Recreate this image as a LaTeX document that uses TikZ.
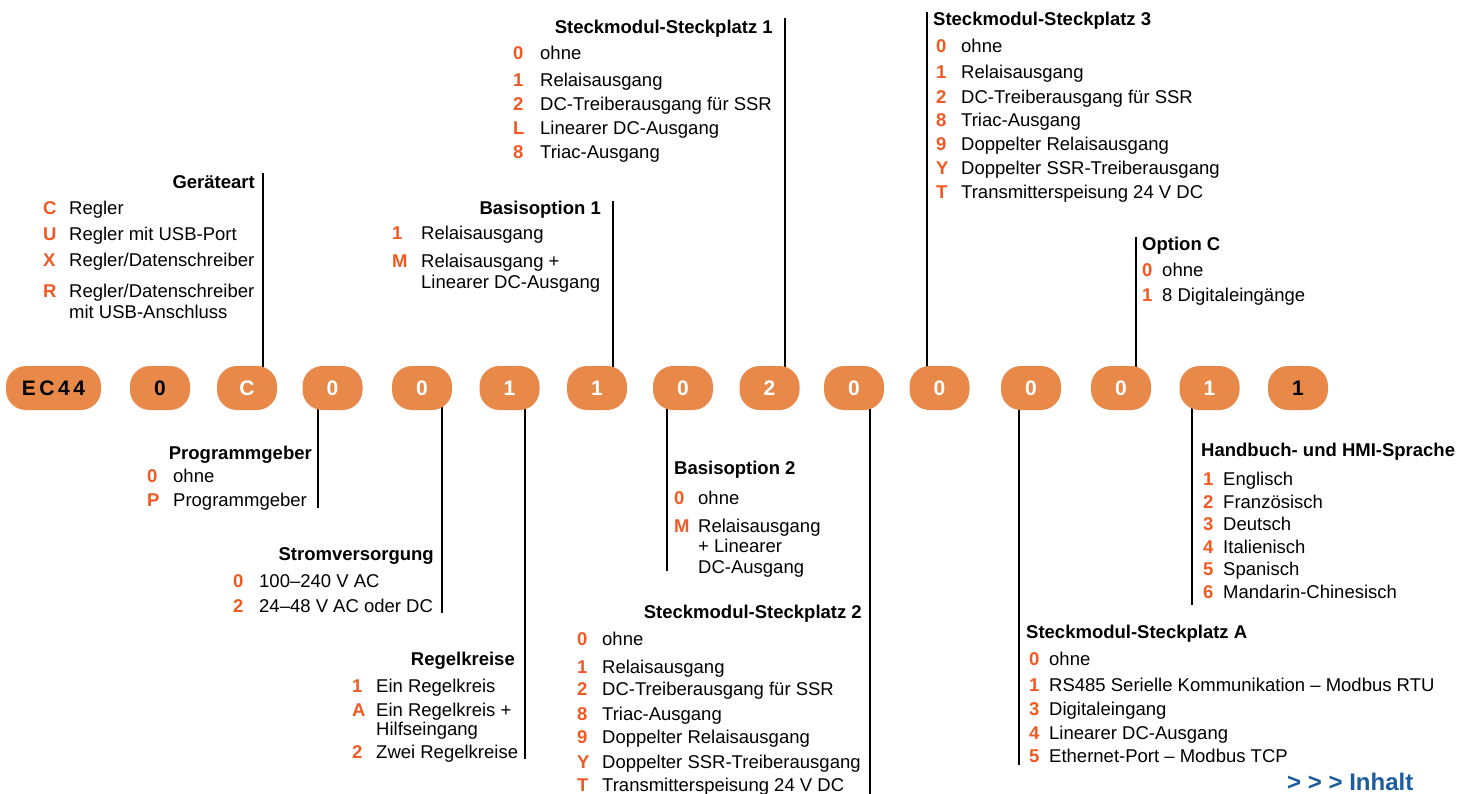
\documentclass[tikz,border=0pt]{standalone}
\usepackage{fontspec}
\setmainfont{Liberation Sans}
\usetikzlibrary{backgrounds}
\definecolor{pillc}{HTML}{E98949}
\definecolor{keyc}{HTML}{F05A22}
\definecolor{linkc}{HTML}{1B5C9D}
\tikzset{
  pill/.style={fill=pillc, rounded corners=20pt, minimum height=44pt, minimum width=60pt, inner sep=0pt, text=white, font=\bfseries\fontsize{21}{24}\selectfont},
  key/.style={anchor=base west, inner sep=0pt, text=keyc, font=\bfseries\fontsize{18.5}{22}\selectfont},
  itm/.style={anchor=base west, inner sep=0pt, font=\fontsize{18.5}{22}\selectfont},
  headl/.style={anchor=base west, inner sep=0pt, font=\bfseries\fontsize{18.5}{22}\selectfont},
  headr/.style={anchor=base east, inner sep=0pt, font=\bfseries\fontsize{18.5}{22}\selectfont},
  ln/.style={line width=2.7pt}
}
\newcommand\optrow[6]{\node[key] (#1k) at (#2,#4) {#5}; \node[itm] (#1t) at (#3,#4) {#6};}
\begin{document}
\begin{tikzpicture}[x=1pt,y=-1pt]
\useasboundingbox (0,0) rectangle (1475,794);
% pills
\node[pill,minimum width=95pt,text=black] (p1) at (53.5,388) {E\kern3.5pt C\kern3.5pt 4\kern3.5pt 4};
\node[pill,text=black] (p2) at (160,388) {0};
\node[pill] (p3) at (247,388) {C};
\node[pill] (p4) at (332.5,388) {0};
\node[pill] (p5) at (422,388) {0};
\node[pill] (p6) at (509.5,388) {1};
\node[pill] (p7) at (597,388) {1};
\node[pill] (p8) at (683,388) {0};
\node[pill] (p9) at (769.5,388) {2};
\node[pill] (p10) at (854,388) {0};
\node[pill] (p11) at (939.5,388) {0};
\node[pill] (p12) at (1031,388) {0};
\node[pill] (p13) at (1121,388) {0};
\node[pill] (p14) at (1209.5,388) {1};
\node[pill,text=black] (p15) at (1298,388) {1};
% connector free ends
\coordinate (cGa) at (263,173);
\coordinate (cB1) at (613,201);
\coordinate (cS1) at (785,18);
\coordinate (cS3) at (927,12);
\coordinate (cOC) at (1136,237);
\coordinate (cPg) at (318,508);
\coordinate (cSv) at (442,613);
\coordinate (cRk) at (525,759);
\coordinate (cB2) at (667,571);
\coordinate (cS2) at (870,794);
\coordinate (cSA) at (1019,765);
\coordinate (cHb) at (1192,605);
\begin{pgfonlayer}{background}
\draw[ln] (cGa) -- (cGa |- p3.center);
\draw[ln] (cB1) -- (cB1 |- p7.center);
\draw[ln] (cS1) -- (cS1 |- p9.center);
\draw[ln] (cS3) -- (cS3 |- p11.center);
\draw[ln] (cOC) -- (cOC |- p13.center);
\draw[ln] (cPg) -- (cPg |- p4.center);
\draw[ln] (cSv) -- (cSv |- p5.center);
\draw[ln] (cRk) -- (cRk |- p6.center);
\draw[ln] (cB2) -- (cB2 |- p8.center);
\draw[ln] (cS2) -- (cS2 |- p10.center);
\draw[ln] (cSA) -- (cSA |- p12.center);
\draw[ln] (cHb) -- (cHb |- p14.center);
\end{pgfonlayer}
% Geraeteart
\node[headr] (hGa) at (255,188.5) {Geräteart};
\optrow{ga1}{43}{69}{214.5}{C}{Regler}
\optrow{ga2}{43}{69}{240.5}{U}{Regler mit USB-Port}
\optrow{ga3}{43}{69}{266.5}{X}{Regler/Datenschreiber}
\optrow{ga4}{43}{69}{298}{R}{Regler/Datenschreiber}
\node[itm] (ga4b) at (69,318.5) {mit USB-Anschluss};
% Basisoption 1
\node[headr] (hB1) at (601,214.5) {Basisoption 1};
\optrow{b11}{392}{421}{239.5}{1}{Relaisausgang}
\optrow{b12}{392}{421}{267.5}{M}{Relaisausgang +}
\node[itm] (b12b) at (421,288.5) {Linearer DC-Ausgang};
% Steckplatz 1
\node[headr] (hS1) at (773,33.5) {Steckmodul-Steckplatz 1};
\optrow{s11}{513}{540}{59.5}{0}{ohne}
\optrow{s12}{513}{540}{86.5}{1}{Relaisausgang}
\optrow{s13}{513}{540}{110.5}{2}{DC-Treiberausgang für SSR}
\optrow{s14}{513}{540}{134.5}{L}{Linearer DC-Ausgang}
\optrow{s15}{513}{540}{158.5}{8}{Triac-Ausgang}
% Steckplatz 3
\node[headl] (hS3) at (933,25.5) {Steckmodul-Steckplatz 3};
\optrow{s31}{936}{961}{52.5}{0}{ohne}
\optrow{s32}{936}{961}{78.5}{1}{Relaisausgang}
\optrow{s33}{936}{961}{103.5}{2}{DC-Treiberausgang für SSR}
\optrow{s34}{936}{961}{126.5}{8}{Triac-Ausgang}
\optrow{s35}{936}{961}{150.5}{9}{Doppelter Relaisausgang}
\optrow{s36}{936}{961}{174.5}{Y}{Doppelter SSR-Treiberausgang}
\optrow{s37}{936}{961}{198.5}{T}{Transmitterspeisung 24 V DC}
% Option C
\node[headl] (hOC) at (1142,250.5) {Option C};
\optrow{oc1}{1142}{1162}{276.5}{0}{ohne}
\optrow{oc2}{1142}{1162}{301.5}{1}{8 Digitaleingänge}
% Programmgeber
\node[headr] (hPg) at (312,459.5) {Programmgeber};
\optrow{pg1}{147}{173}{482.5}{0}{ohne}
\optrow{pg2}{147}{173}{506.5}{P}{Programmgeber}
% Stromversorgung
\node[headr] (hSv) at (434,560.5) {Stromversorgung};
\optrow{sv1}{233}{259}{587.5}{0}{100–240 V AC}
\optrow{sv2}{233}{259}{612.5}{2}{24–48 V AC oder DC}
% Regelkreise
\node[headr] (hRk) at (515,665.5) {Regelkreise};
\optrow{rk1}{352}{376}{692.5}{1}{Ein Regelkreis}
\optrow{rk2}{352}{376}{716.5}{A}{Ein Regelkreis +}
\node[itm] (rk2b) at (376,735.5) {Hilfseingang};
\optrow{rk3}{352}{376}{758.5}{2}{Zwei Regelkreise}
% Basisoption 2
\node[headl] (hB2) at (674,474.5) {Basisoption 2};
\optrow{b21}{674}{698}{504.5}{0}{ohne}
\optrow{b22}{674}{698}{532.5}{M}{Relaisausgang}
\node[itm] (b22b) at (698,552.5) {+ Linearer};
\node[itm] (b22c) at (698,573.5) {DC-Ausgang};
% Steckplatz 2
\node[headr] (hS2) at (862,618.5) {Steckmodul-Steckplatz 2};
\optrow{s21}{577}{602}{645.5}{0}{ohne}
\optrow{s22}{577}{602}{673.5}{1}{Relaisausgang}
\optrow{s23}{577}{602}{695.5}{2}{DC-Treiberausgang für SSR}
\optrow{s24}{577}{602}{720.5}{8}{Triac-Ausgang}
\optrow{s25}{577}{602}{743.5}{9}{Doppelter Relaisausgang}
\optrow{s26}{577}{602}{768.5}{Y}{Doppelter SSR-Treiberausgang}
\optrow{s27}{577}{602}{791.5}{T}{Transmitterspeisung 24 V DC}
% Steckplatz A
\node[headl] (hSA) at (1026,638.5) {Steckmodul-Steckplatz A};
\optrow{sa1}{1029}{1049}{665.5}{0}{ohne}
\optrow{sa2}{1029}{1049}{691.5}{1}{RS485 Serielle Kommunikation – Modbus RTU}
\optrow{sa3}{1029}{1049}{715.5}{3}{Digitaleingang}
\optrow{sa4}{1029}{1049}{739.5}{4}{Linearer DC-Ausgang}
\optrow{sa5}{1029}{1049}{762.5}{5}{Ethernet-Port – Modbus TCP}
% Handbuch
\node[headl] (hHb) at (1201,456.5) {Handbuch- und HMI-Sprache};
\optrow{hb1}{1203}{1223}{485.5}{1}{Englisch}
\optrow{hb2}{1203}{1223}{508.5}{2}{Französisch}
\optrow{hb3}{1203}{1223}{530.5}{3}{Deutsch}
\optrow{hb4}{1203}{1223}{553.5}{4}{Italienisch}
\optrow{hb5}{1203}{1223}{575.5}{5}{Spanisch}
\optrow{hb6}{1203}{1223}{598.5}{6}{Mandarin-Chinesisch}
% link
\node[anchor=base west, inner sep=0pt, text=linkc, font=\bfseries\fontsize{24}{28}\selectfont] (inh) at (1287,790) {> > > Inhalt};
\end{tikzpicture}
\end{document}
